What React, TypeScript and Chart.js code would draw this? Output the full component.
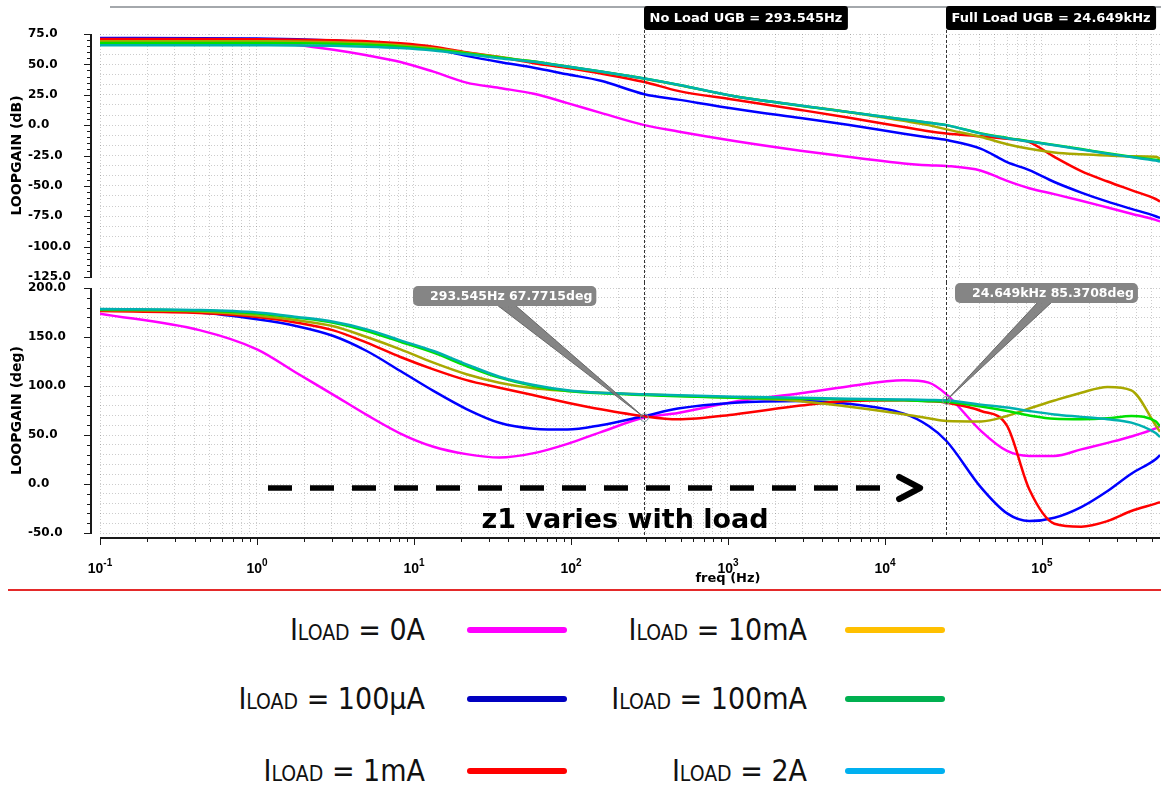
import React, { useEffect, useRef } from 'react';
import { Chart, registerables } from 'chart.js';

Chart.register(...registerables);

// Sweep frequencies (Hz)
const FREQ_HZ = [0.1, 0.43, 1, 1.8, 3.07, 5, 8.2, 13.3, 21.6, 35, 58, 95, 155, 293.545, 480, 1100, 2900, 5800, 13200, 19000, 24649, 41000, 60000, 83000, 120000, 178000, 262000, 371000, 530000, 565000];

// Loop-gain magnitude (dB) for each load current
const GAIN_0A = [71.4, 70.6, 68.6, 66, 62, 57.5, 52, 44, 35, 30.6, 25.8, 18.1, 10.1, 0, -5.2, -13, -21, -26.1, -31.5, -33, -33.6, -37.5, -45.9, -52, -56.8, -62.2, -67.8, -72.9, -78, -79.3];
const GAIN_100UA = [71.8, 71.6, 71.2, 70.6, 69.6, 68.2, 66.3, 62.8, 57, 52, 47.2, 41.8, 36.5, 25.4, 21, 13.5, 5.8, 0.3, -7.1, -10.2, -12.3, -19.5, -30.5, -37, -46.8, -55.5, -63, -68.9, -75, -76.5];
const GAIN_1MA = [70.9, 70.8, 70.6, 70.3, 69.8, 69.1, 67.3, 64.5, 60, 56, 51, 47, 42.5, 35.5, 28.2, 20.9, 12.5, 6.3, -1.6, -5, -6.8, -9.2, -11.2, -14, -26.2, -37.9, -46.4, -53.5, -60.8, -62.9];
const GAIN_10MA = [69.1, 69.1, 69, 68.8, 68.3, 67.4, 65.8, 63.2, 59.6, 56, 52.3, 48, 44, 38.2, 33, 23.8, 16, 10.8, 3.5, 0, -3.5, -9.8, -15.7, -19.5, -22.5, -24, -25, -25.6, -26, -27.5];
const GAIN_100MA = [67.6, 67.6, 67.5, 67.3, 66.9, 66.1, 64.6, 62.2, 59, 55.6, 52.4, 48.2, 44.1, 38.3, 33.2, 23.7, 16, 10.8, 4.6, 1.9, 0, -6.8, -10.5, -13.2, -16.3, -19.7, -23.2, -26, -28.5, -29.2];
const GAIN_2A = [65.8, 65.8, 65.7, 65.6, 65.3, 64.6, 63.4, 61.4, 58.3, 55.1, 52.2, 48.2, 44.2, 38.4, 33.3, 23.8, 16.1, 10.9, 4.7, 2, 0, -7, -10.8, -13.5, -16.6, -20, -23.5, -26.3, -29.2, -30];

// Loop-gain phase (deg) for each load current
const PHASE_0A = [173.8, 157, 137.4, 113, 91, 70.5, 51.5, 38, 30.5, 27, 31.5, 41, 53, 67.7715, 72.5, 84, 92.5, 99.5, 105.8, 103.4, 91.5, 54, 33.7, 28.6, 28.6, 35.3, 42, 48.5, 56.8, 59];
const PHASE_100UA = [177.5, 175, 168, 161, 151, 135.7, 115.3, 95, 76.5, 62.5, 56.5, 55.5, 60, 69.4, 77, 83, 84.7, 82, 71.8, 59.2, 43.9, -3.7, -30, -37.8, -34.4, -23.5, -7.1, 10.5, 25.3, 29.5];
const PHASE_1MA = [176.5, 174.5, 170.4, 164.6, 156.8, 144.2, 129.6, 117, 106, 98.3, 90.5, 83, 76.2, 69, 66, 71, 80, 84.7, 85.4, 84.5, 83, 74.5, 59.2, -5.4, -40.5, -43.5, -37.8, -27.6, -20, -18.5];
const PHASE_10MA = [177.5, 176, 172, 167, 161, 150, 137.4, 123.8, 112, 103.4, 97.6, 94.9, 93, 91.5, 90, 88, 84.5, 79, 71.1, 67, 64.3, 63.8, 69.4, 77, 85.2, 93.2, 99, 95.6, 60, 53.3];
const PHASE_100MA = [178, 177, 174, 169.7, 164.6, 156.1, 145, 134, 120.4, 108.5, 100, 95, 92.5, 90.8, 89.5, 88, 87, 86.3, 85.4, 84.5, 84, 79, 74.5, 70, 66.5, 66, 67, 69.4, 64, 59];
const PHASE_2A = [178.5, 177.5, 175, 170.5, 165.5, 157.8, 146.6, 135.7, 122.1, 109.5, 101, 95.6, 93, 91.5, 90.5, 89, 88, 87, 86.2, 85.8, 85.3708, 81, 78, 74.5, 71, 68.5, 66, 62.6, 52, 48];

const LOAD_LABELS = ['0A', '100µA', '1mA', '10mA', '100mA', '2A'];

// Measured crossover points
const NO_LOAD_UGB_HZ = 293.545;
const NO_LOAD_PM_DEG = 67.7715;
const FULL_LOAD_UGB_HZ = 24649;
const FULL_LOAD_PM_DEG = 85.3708;

// Axis ranges
const X_MIN = 0.1;
const X_MAX = 565000;
const GAIN_MIN = -125;
const GAIN_MAX = 75;
const GAIN_LABEL_STEP = 25;
const GAIN_GRID_DIV = 3;
const GAIN_TICK_STEP = 5;
const PHASE_MIN = -50;
const PHASE_MAX = 200;
const PHASE_LABEL_STEP = 50;
const PHASE_GRID_DIV = 5;
const PHASE_TICK_STEP = 10;

// Styling
const FONT = '"DejaVu Sans", Verdana, sans-serif';
const X_LABEL_FONT = '"Liberation Sans", Arial, sans-serif';
const LEGEND_FONT = '"DejaVu Sans Condensed", "DejaVu Sans", sans-serif';
const PLOT_COLORS = ['#ff00ff', '#0000ff', '#ff0000', '#a8a800', '#00e000', '#00b0b0'];
const LEGEND_COLORS = ['#ff00ff', '#0000c0', '#ff0000', '#ffc000', '#00b050', '#00b0f0'];

const GAIN_SERIES = [GAIN_0A, GAIN_100UA, GAIN_1MA, GAIN_10MA, GAIN_100MA, GAIN_2A];
const PHASE_SERIES = [PHASE_0A, PHASE_100UA, PHASE_1MA, PHASE_10MA, PHASE_100MA, PHASE_2A];

// Annotation anchors
const ARROW_START_HZ = 1.175;
const ARROW_TIP_HZ = 17500;
const ARROW_DEG = -4;
const Z1_LABEL_HZ = 221;
const Z1_LABEL_DEG = -45;

const isDecade = (v: number) => {
  const e = Math.round(Math.log10(v));
  return Math.abs(v / Math.pow(10, e) - 1) < 1e-6;
};

function logTicks(scale: any) {
  const out: any[] = [];
  for (let e = -1; e <= 5; e++) {
    for (let m = 1; m <= 9; m++) {
      const v = m * Math.pow(10, e);
      if (v >= X_MIN * 0.9999 && v <= X_MAX) out.push({ value: v });
    }
  }
  scale.ticks = out;
}

function linearTicks(min: number, max: number, step: number) {
  return (scale: any) => {
    const out: any[] = [];
    for (let k = 0; ; k++) {
      const v = Math.round((min + k * step) * 1e6) / 1e6;
      if (v > max + 1e-6) break;
      out.push({ value: v });
    }
    scale.ticks = out;
  };
}

// value axis keeps a fixed band on the left; labels start at its left edge
const fitValueAxis = (s: any) => {
  s.width = 72;
  s.paddingTop = 0;
  s.paddingBottom = 0;
};

const GRID = { color: 'rgba(0,0,0,0.2)', lineWidth: 1, drawTicks: false };
const BORDER = { display: false, dash: [1, 2] };
const TICK_FONT = { family: FONT, weight: 'bold' as const, size: 12 };

// later traces are painted over earlier ones
function makeDatasets(series: number[][]) {
  return series.map((vals, i) => ({
    label: LOAD_LABELS[i],
    data: FREQ_HZ.map((f, j) => ({ x: f, y: vals[j] })),
    borderColor: PLOT_COLORS[i],
    backgroundColor: PLOT_COLORS[i],
    borderWidth: 2.5,
    pointRadius: 0,
    fill: false,
    order: series.length - i,
    cubicInterpolationMode: 'monotone' as const,
    borderJoinStyle: 'round' as const,
  }));
}

function drawYAxis(ctx: CanvasRenderingContext2D, scale: any, area: any, min: number, max: number, step: number, major: number, title: string) {
  ctx.fillStyle = '#1a1a1a';
  ctx.fillRect(area.left - 10, area.top, 2, area.bottom - area.top + 1);
  for (let v = min; v <= max + 1e-6; v += step) {
    const py = Math.round(scale.getPixelForValue(v));
    const isMajor = Math.abs(v % major) < 1e-6;
    const len = isMajor ? 6 : 3;
    ctx.fillRect(area.left - 10 - len, py, len, 1);
  }
  ctx.save();
  ctx.translate(17, (area.top + area.bottom) / 2);
  ctx.rotate(-Math.PI / 2);
  ctx.font = `bold 14px ${FONT}`;
  ctx.fillStyle = '#000';
  ctx.textAlign = 'center';
  ctx.textBaseline = 'middle';
  ctx.fillText(title, 0, 0);
  ctx.restore();
}

function drawMarker(ctx: CanvasRenderingContext2D, px: number, y0: number, y1: number) {
  ctx.save();
  ctx.strokeStyle = '#333';
  ctx.lineWidth = 1;
  ctx.setLineDash([3, 2]);
  ctx.beginPath();
  ctx.moveTo(px, y0);
  ctx.lineTo(px, y1);
  ctx.stroke();
  ctx.restore();
}

const UGB_LABELS = [
  { hz: NO_LOAD_UGB_HZ, text: `No Load UGB = ${NO_LOAD_UGB_HZ}Hz` },
  { hz: FULL_LOAD_UGB_HZ, text: `Full Load UGB = ${(FULL_LOAD_UGB_HZ / 1000).toFixed(3)}kHz` },
];

const CALLOUTS = [
  { hz: NO_LOAD_UGB_HZ, deg: NO_LOAD_PM_DEG, text: `${NO_LOAD_UGB_HZ}Hz ${NO_LOAD_PM_DEG}deg`, boxLeft: 413, boxTop: 4, base: [497, 515] },
  { hz: FULL_LOAD_UGB_HZ, deg: FULL_LOAD_PM_DEG, text: `${(FULL_LOAD_UGB_HZ / 1000).toFixed(3)}kHz ${FULL_LOAD_PM_DEG}deg`, boxLeft: 955, boxTop: 1, base: [1038, 1052] },
];

const gainDecor = {
  id: 'gainDecor',
  afterDraw(chart: any) {
    const { ctx, chartArea: a, scales } = chart;
    const x = scales.x;
    const y = scales.y;
    ctx.save();
    // window rule along the top edge
    ctx.fillStyle = '#a4a8ac';
    ctx.fillRect(110, 6, chart.width - 110, 2);
    drawYAxis(ctx, y, a, GAIN_MIN, GAIN_MAX, GAIN_TICK_STEP, GAIN_LABEL_STEP, 'LOOPGAIN (dB)');
    for (const m of UGB_LABELS) {
      const px = Math.round(x.getPixelForValue(m.hz)) + 0.5;
      drawMarker(ctx, px, 30, chart.height);
      ctx.font = `bold 13px ${FONT}`;
      const w = ctx.measureText(m.text).width + 11;
      ctx.fillStyle = '#000';
      ctx.beginPath();
      ctx.roundRect(px - 0.5, 6, w, 24, 3);
      ctx.fill();
      ctx.fillStyle = '#fff';
      ctx.textAlign = 'left';
      ctx.textBaseline = 'middle';
      ctx.fillText(m.text, px + 5, 18.5);
    }
    ctx.restore();
  },
};

const phaseDecor = {
  id: 'phaseDecor',
  afterDraw(chart: any) {
    const { ctx, chartArea: a, scales } = chart;
    const x = scales.x;
    const y = scales.y;
    ctx.save();
    drawYAxis(ctx, y, a, PHASE_MIN, PHASE_MAX, PHASE_TICK_STEP, PHASE_LABEL_STEP, 'LOOPGAIN (deg)');

    // frequency axis line, log ticks and decade labels
    const ay = a.bottom + 4;
    ctx.fillStyle = '#1a1a1a';
    ctx.fillRect(a.left, ay, a.right - a.left, 2);
    for (const t of x.ticks) {
      const px = Math.round(x.getPixelForValue(t.value));
      ctx.fillRect(px, ay, 1, isDecade(t.value) ? 8 : 5);
    }
    ctx.fillStyle = '#000';
    ctx.textAlign = 'left';
    ctx.textBaseline = 'alphabetic';
    for (const t of x.ticks) {
      if (!isDecade(t.value)) continue;
      const exp = String(Math.round(Math.log10(t.value)));
      const px = x.getPixelForValue(t.value);
      ctx.font = `bold 14px ${X_LABEL_FONT}`;
      const w1 = ctx.measureText('10').width;
      ctx.font = `bold 10px ${X_LABEL_FONT}`;
      const w2 = ctx.measureText(exp).width;
      const sx = px - (w1 + w2) / 2;
      ctx.font = `bold 14px ${X_LABEL_FONT}`;
      ctx.fillText('10', sx, ay + 36);
      ctx.font = `bold 10px ${X_LABEL_FONT}`;
      ctx.fillText(exp, sx + w1, ay + 29);
    }
    ctx.font = `bold 13px ${FONT}`;
    ctx.textAlign = 'center';
    ctx.textBaseline = 'middle';
    ctx.fillText('freq (Hz)', x.getPixelForValue(1000), ay + 42);

    for (const m of UGB_LABELS) {
      drawMarker(ctx, Math.round(x.getPixelForValue(m.hz)) + 0.5, 0, ay);
    }

    // dashed arrow showing the zero moving with load
    const arrowY = Math.round(y.getPixelForValue(ARROW_DEG));
    const x0 = x.getPixelForValue(ARROW_START_HZ);
    const tip = x.getPixelForValue(ARROW_TIP_HZ);
    ctx.strokeStyle = '#000';
    ctx.lineWidth = 5.5;
    ctx.setLineDash([24, 18]);
    ctx.lineCap = 'butt';
    ctx.beginPath();
    ctx.moveTo(x0, arrowY);
    ctx.lineTo(tip - 43, arrowY);
    ctx.stroke();
    ctx.setLineDash([]);
    ctx.lineWidth = 6;
    ctx.lineCap = 'round';
    ctx.lineJoin = 'round';
    ctx.beginPath();
    ctx.moveTo(tip - 24, arrowY - 11);
    ctx.lineTo(tip - 3, arrowY);
    ctx.lineTo(tip - 24, arrowY + 11);
    ctx.stroke();

    ctx.font = `bold 27px ${FONT}`;
    ctx.textAlign = 'center';
    ctx.textBaseline = 'alphabetic';
    ctx.fillStyle = '#000';
    ctx.fillText('z1 varies with load', x.getPixelForValue(Z1_LABEL_HZ), y.getPixelForValue(Z1_LABEL_DEG));

    // phase-margin callouts
    for (const c of CALLOUTS) {
      const tx = x.getPixelForValue(c.hz);
      const ty = y.getPixelForValue(c.deg);
      ctx.font = `bold 12.5px ${FONT}`;
      const w = ctx.measureText(c.text).width + 21;
      const baseY = c.boxTop + 19;
      ctx.fillStyle = 'rgba(120,120,120,0.9)';
      ctx.strokeStyle = 'rgba(95,95,95,0.9)';
      ctx.lineWidth = 1;
      ctx.beginPath();
      ctx.moveTo(c.base[0], baseY);
      ctx.lineTo(tx, ty);
      ctx.lineTo(c.base[1], baseY);
      ctx.closePath();
      ctx.fill();
      ctx.stroke();
      ctx.beginPath();
      ctx.arc(tx, ty, 4, 0, Math.PI * 2);
      ctx.strokeStyle = '#7f9c9c';
      ctx.stroke();
      ctx.fillStyle = '#858585';
      ctx.beginPath();
      ctx.roundRect(c.boxLeft, c.boxTop, w, 20, 5);
      ctx.fill();
      ctx.fillStyle = '#fff';
      ctx.textAlign = 'left';
      ctx.textBaseline = 'middle';
      ctx.fillText(c.text, c.boxLeft + 17, c.boxTop + 10.5);
    }
    ctx.restore();
  },
};

function valueAxis(min: number, max: number, step: number, div: number) {
  return {
    type: 'linear',
    min,
    max,
    afterBuildTicks: linearTicks(min, max, step),
    afterFit: fitValueAxis,
    ticks: {
      autoSkip: false,
      crossAlign: 'far',
      padding: 0,
      color: '#000',
      font: TICK_FONT,
      callback: (v: any, i: number) => (i % div === 0 ? Number(v).toFixed(1) : ''),
    },
    grid: GRID,
    border: BORDER,
  };
}

function freqAxis(height: number) {
  return {
    type: 'logarithmic',
    min: X_MIN,
    max: X_MAX,
    afterBuildTicks: logTicks,
    afterFit: (s: any) => {
      s.height = height;
      s.paddingLeft = 0;
      s.paddingRight = 0;
    },
    ticks: { display: false, autoSkip: false },
    grid: GRID,
    border: BORDER,
  };
}

function gainConfig(): any {
  return {
    type: 'line',
    data: { datasets: makeDatasets(GAIN_SERIES) },
    options: {
      responsive: false,
      animation: false,
      events: [],
      layout: { padding: { left: 28, right: 1, top: 34, bottom: 5 } },
      plugins: { legend: { display: false }, tooltip: { enabled: false } },
      scales: {
        x: freqAxis(0),
        y: valueAxis(GAIN_MIN, GAIN_MAX, GAIN_LABEL_STEP / GAIN_GRID_DIV, GAIN_GRID_DIV),
      },
    },
    plugins: [gainDecor],
  };
}

function phaseConfig(): any {
  return {
    type: 'line',
    data: { datasets: makeDatasets(PHASE_SERIES) },
    options: {
      responsive: false,
      animation: false,
      events: [],
      layout: { padding: { left: 28, right: 1, top: 6, bottom: 0 } },
      plugins: { legend: { display: false }, tooltip: { enabled: false } },
      scales: {
        x: freqAxis(55),
        y: valueAxis(PHASE_MIN, PHASE_MAX, PHASE_LABEL_STEP / PHASE_GRID_DIV, PHASE_GRID_DIV),
      },
    },
    plugins: [phaseDecor],
  };
}

// Legend layout: rows of [left item, right item]
const LEGEND_ROWS = [[0, 3], [1, 4], [2, 5]];
const LEGEND_ROW_Y = [630, 699, 771];
const LEGEND_TEXT_RIGHT = [425, 807];
const LEGEND_LINE_X = [467, 845];

export default function App() {
  const gainRef = useRef<HTMLCanvasElement>(null);
  const phaseRef = useRef<HTMLCanvasElement>(null);

  useEffect(() => {
    const g = new Chart(gainRef.current as HTMLCanvasElement, gainConfig());
    const p = new Chart(phaseRef.current as HTMLCanvasElement, phaseConfig());
    return () => {
      g.destroy();
      p.destroy();
    };
  }, []);

  return (
    <div style={{ position: 'fixed', left: 0, top: 0, width: 1161, height: 787, background: '#fff', overflow: 'hidden' }}>
      <canvas ref={gainRef} width={1161} height={282} style={{ position: 'absolute', left: 0, top: 0 }} />
      <canvas ref={phaseRef} width={1161} height={306} style={{ position: 'absolute', left: 0, top: 282 }} />
      <div style={{ position: 'absolute', left: 8, top: 589, width: 1153, height: 2, background: '#e42a2a' }} />
      {LEGEND_ROWS.map((row, r) =>
        row.map((idx, c) => (
          <React.Fragment key={idx}>
            <div
              style={{
                position: 'absolute',
                right: 1161 - LEGEND_TEXT_RIGHT[c],
                top: LEGEND_ROW_Y[r] - 15,
                fontFamily: LEGEND_FONT,
                fontSize: 30,
                lineHeight: '30px',
                whiteSpace: 'nowrap',
                color: '#111',
                textAlign: 'right',
              }}
            >
              I<span style={{ fontSize: '0.7em' }}>LOAD</span> = {LOAD_LABELS[idx]}
            </div>
            <div
              style={{
                position: 'absolute',
                left: LEGEND_LINE_X[c],
                top: LEGEND_ROW_Y[r] - 3,
                width: 100,
                height: 6,
                borderRadius: 3,
                background: LEGEND_COLORS[idx],
              }}
            />
          </React.Fragment>
        ))
      )}
    </div>
  );
}
